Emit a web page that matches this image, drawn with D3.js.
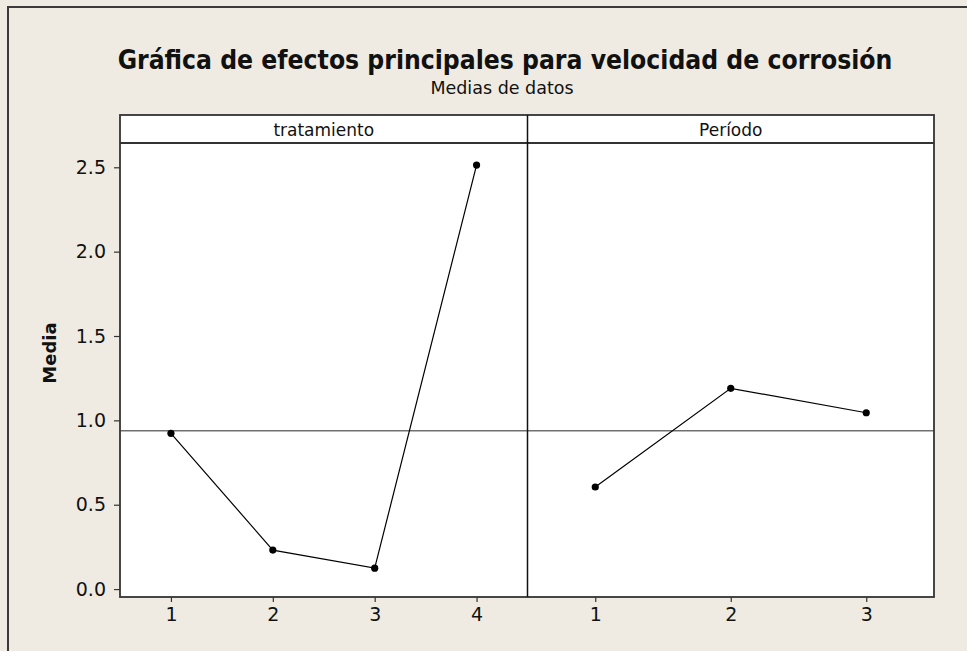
<!DOCTYPE html>
<html><head><meta charset="utf-8">
<script src="https://cdn.jsdelivr.net/npm/d3@7"></script>
<style>
html,body{margin:0;padding:0;background:#EFEBE2;}
svg{display:block;}
text{font-family:"DejaVu Sans",Verdana,sans-serif;fill:#111;}
</style></head>
<body>
<script>
const title = "Gráfica de efectos principales para velocidad de corrosión";
const subtitle = "Medias de datos";
const yLabel = "Media";
const panelNames = ["tratamiento", "Período"];
const tratamientoLevels = [1, 2, 3, 4];
const tratamientoMeans = [0.923, 0.231, 0.124, 2.513];
const periodoLevels = [1, 2, 3];
const periodoMeans = [0.605, 1.190, 1.045];
const grandMean = 0.938;
const yTicks = [0.0, 0.5, 1.0, 1.5, 2.0, 2.5];

(function(){
const W = 967, H = 651;
const FONT = '"DejaVu Sans",Verdana,sans-serif';
const svg = d3.select("body").append("svg").attr("width", W).attr("height", H);
svg.append("rect").attr("width", W).attr("height", H).attr("fill", "#EFEBE2");
svg.append("path").attr("d", `M8,${H} L8,7 L${W},7`).attr("fill","none").attr("stroke","#3a3a3a").attr("stroke-width",2);

const pL = 120, pR = 934, pT = 115, stripH = 28, pB = 597;
const divX = 527.5;
const y = d3.scaleLinear().domain([-0.047, 2.644]).range([pB, pT + stripH]);

const panels = [
  {name: panelNames[0], levels: tratamientoLevels, means: tratamientoMeans, x0: pL, x1: divX},
  {name: panelNames[1], levels: periodoLevels, means: periodoMeans, x0: divX, x1: pR}
];

svg.append("rect").attr("x", pL).attr("y", pT).attr("width", pR-pL).attr("height", pB-pT).attr("fill", "#fff");

panels.forEach(p => {
  const x = d3.scaleLinear().domain([0.5, p.levels.length + 0.5]).range([p.x0, p.x1]);
  svg.append("line").attr("x1", p.x0).attr("x2", p.x1).attr("y1", y(grandMean)).attr("y2", y(grandMean))
    .attr("stroke", "#707070").attr("stroke-width", 1.5);
  const line = d3.line().x((d,i) => x(p.levels[i])).y(d => y(d));
  svg.append("path").attr("d", line(p.means)).attr("fill","none").attr("stroke","#000").attr("stroke-width",1.2);
  svg.selectAll(null).data(p.means).enter().append("circle")
    .attr("cx", (d,i) => x(p.levels[i])).attr("cy", d => y(d)).attr("r", 3.6).attr("fill", "#000");
  const ax = svg.append("g").attr("transform", `translate(0,${pB})`)
    .call(d3.axisBottom(x).tickValues(p.levels).tickFormat(d3.format("d")).tickSize(5).tickPadding(6).tickSizeOuter(0));
  ax.select(".domain").remove();
  ax.selectAll("line").attr("stroke", "#333").attr("stroke-width", 1.2);
  ax.selectAll("text").attr("font-size", 19).attr("fill", "#111").style("font-family", FONT);
  svg.append("text").attr("x", (p.x0 + p.x1)/2).attr("y", pT + 21).attr("text-anchor","middle")
    .attr("font-size", 17).text(p.name);
});

const ay = svg.append("g").attr("transform", `translate(${pL},0)`)
  .call(d3.axisLeft(y).tickValues(yTicks).tickFormat(d3.format(".1f")).tickSize(6).tickPadding(8));
ay.select(".domain").remove();
ay.selectAll("line").attr("stroke", "#333").attr("stroke-width", 1.2);
ay.selectAll("text").attr("font-size", 19).attr("fill", "#111").style("font-family", FONT);

const fr = "#333";
svg.append("rect").attr("x", pL).attr("y", pT).attr("width", pR-pL).attr("height", pB-pT)
  .attr("fill","none").attr("stroke", fr).attr("stroke-width", 1.8);
svg.append("line").attr("x1", pL).attr("x2", pR).attr("y1", pT+stripH).attr("y2", pT+stripH).attr("stroke", fr).attr("stroke-width", 1.8);
svg.append("line").attr("x1", divX).attr("x2", divX).attr("y1", pT).attr("y2", pB).attr("stroke", "#111").attr("stroke-width", 1.5);

const t = svg.append("text").attr("x", 505).attr("y", 69).attr("text-anchor","middle")
  .style("font-family", '"DejaVu Sans Condensed","DejaVu Sans",sans-serif')
  .attr("font-size", 24).attr("font-weight","bold").text(title);
const tl = t.node().getComputedTextLength();
t.attr("font-size", 24 * 775 / tl);
svg.append("text").attr("x", 502).attr("y", 94).attr("text-anchor","middle").attr("font-size", 17.5).text(subtitle);
svg.append("text").attr("transform", `translate(56,353) rotate(-90)`).attr("text-anchor","middle")
  .attr("font-size", 18).attr("font-weight","bold").text(yLabel);
})();
</script>
</body></html>
